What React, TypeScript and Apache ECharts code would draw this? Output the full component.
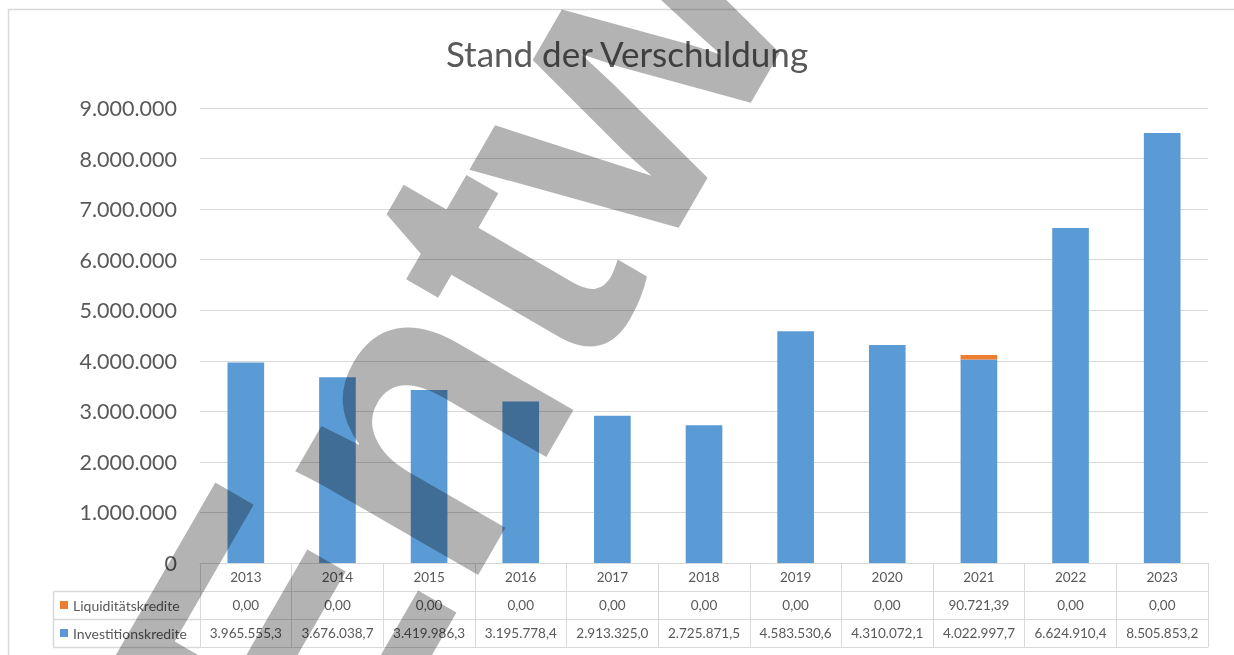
import React, { useEffect, useRef } from 'react';
import * as echarts from 'echarts';

const categories = ['2013', '2014', '2015', '2016', '2017', '2018', '2019', '2020', '2021', '2022', '2023'];
const liquiditaetskredite = [0, 0, 0, 0, 0, 0, 0, 0, 90721.39, 0, 0];
const investitionskredite = [
  3965555.3, 3676038.7, 3419986.3, 3195778.4, 2913325.0, 2725871.5,
  4583530.6, 4310072.1, 4022997.7, 6624910.4, 8505853.2,
];
const seriesNames = ['Liquiditätskredite', 'Investitionskredite'];
const titleText = 'Stand der Verschuldung';
const watermarkText = 'Entwurf';

function fmtDe(v: number, decimals: number): string {
  const fixed = v.toFixed(decimals);
  const parts = fixed.split('.');
  const intS = parts[0].replace(/\B(?=(\d{3})+(?!\d))/g, '.');
  return parts.length > 1 ? intS + ',' + parts[1] : intS;
}

const FONT = 'Lato';
const TEXT = '#595959';
const LINE = '#d9d9d9';
const BLUE = '#5b9bd5';
const ORANGE = '#ed7d31';

export default function App() {
  const ref = useRef<HTMLDivElement>(null);
  useEffect(() => {
    const chart = echarts.init(ref.current!, null, { renderer: 'svg' });
    const tableLabel = {
      margin: 0,
      lineHeight: 28,
      fontSize: 13.5,
      color: TEXT,
      fontFamily: FONT,
      interval: 0,
    };
    const option: any = {
      animation: false,
      backgroundColor: '#fff',
      title: {
        text: titleText,
        left: 622,
        top: 30,
        textAlign: 'center',
        textStyle: { fontSize: 35, fontWeight: 'normal', color: TEXT, fontFamily: FONT },
      },
      legend: {
        orient: 'vertical',
        left: 60,
        top: 591,
        padding: 0,
        itemGap: 0,
        itemWidth: 8,
        itemHeight: 8,
        icon: 'rect',
        selectedMode: false,
        data: seriesNames,
        textStyle: { fontSize: 14, color: TEXT, fontFamily: FONT, lineHeight: 28 },
      },
      grid: { left: 200, right: 26, top: 108, bottom: 92, containLabel: false },
      xAxis: [
        {
          type: 'category',
          data: categories,
          position: 'bottom',
          axisLine: { show: true, lineStyle: { color: LINE, width: 1 } },
          axisTick: { show: true, length: 84, interval: 0, lineStyle: { color: LINE, width: 1 } },
          axisLabel: { ...tableLabel },
        },
        {
          type: 'category',
          data: categories,
          position: 'bottom',
          offset: 28,
          axisLine: { show: true, lineStyle: { color: LINE, width: 1 } },
          axisTick: { show: false },
          axisLabel: { ...tableLabel, formatter: (_v: string, i: number) => fmtDe(liquiditaetskredite[i], 2) },
        },
        {
          type: 'category',
          data: categories,
          position: 'bottom',
          offset: 56,
          axisLine: { show: true, lineStyle: { color: LINE, width: 1 } },
          axisTick: { show: false },
          axisLabel: { ...tableLabel, formatter: (_v: string, i: number) => fmtDe(investitionskredite[i], 1) },
        },
        {
          type: 'category',
          data: categories,
          position: 'bottom',
          offset: 84,
          axisLine: { show: true, lineStyle: { color: LINE, width: 1 } },
          axisTick: { show: false },
          axisLabel: { show: false },
        },
      ],
      yAxis: {
        type: 'value',
        min: 0,
        max: 9000000,
        interval: 1000000,
        axisLine: { show: false },
        axisTick: { show: false },
        splitLine: { lineStyle: { color: LINE, width: 1 } },
        axisLabel: {
          margin: 23,
          fontSize: 21.5,
          color: TEXT,
          fontFamily: FONT,
          formatter: (v: number) => fmtDe(v, 0),
        },
      },
      series: [
        {
          name: seriesNames[1],
          type: 'bar',
          stack: 'total',
          xAxisIndex: 0,
          barWidth: '40%',
          data: investitionskredite,
          itemStyle: { color: BLUE },
        },
        {
          name: seriesNames[0],
          type: 'bar',
          stack: 'total',
          xAxisIndex: 0,
          barWidth: '40%',
          data: liquiditaetskredite,
          itemStyle: { color: ORANGE },
        },
      ],
      graphic: [
        {
          type: 'rect',
          silent: true,
          shape: { x: 8.5, y: 9.5, width: 1240, height: 700 },
          style: { fill: 'none', stroke: LINE, lineWidth: 1.5 },
        },
        { type: 'line', silent: true, shape: { x1: 53.5, y1: 591.5, x2: 200, y2: 591.5 }, style: { stroke: LINE, lineWidth: 1.5 } },
        { type: 'line', silent: true, shape: { x1: 53.5, y1: 619.5, x2: 200, y2: 619.5 }, style: { stroke: LINE, lineWidth: 1.5 } },
        { type: 'line', silent: true, shape: { x1: 53.5, y1: 647.5, x2: 200, y2: 647.5 }, style: { stroke: LINE, lineWidth: 1.5 } },
        { type: 'line', silent: true, shape: { x1: 53.5, y1: 591.5, x2: 53.5, y2: 647.5 }, style: { stroke: LINE, lineWidth: 1.5 } },
        {
          type: 'text',
          silent: true,
          z: 100,
          x: 212,
          y: 760,
          rotation: (60 * Math.PI) / 180,
          style: {
            text: watermarkText,
            font: 'bold 398px "Liberation Sans", Arial, sans-serif',
            fill: '#b3b3b3',
            align: 'left',
            verticalAlign: 'middle',
            textAlign: 'left',
            textVerticalAlign: 'middle',
            blend: 'multiply',
          },
        },
      ],
    };
    chart.setOption(option);
    const fix = () => {
      const el = ref.current;
      if (!el) return;
      el.querySelectorAll('text').forEach((t) => {
        if (t.textContent === watermarkText) {
          (t as SVGTextElement).style.mixBlendMode = 'multiply';
        }
      });
    };
    fix();
    chart.on('finished', fix);
    return () => chart.dispose();
  }, []);
  return (
    <div
      ref={ref}
      style={{ position: 'fixed', left: 0, top: 0, width: 1234, height: 655, background: '#fff' }}
    />
  );
}
